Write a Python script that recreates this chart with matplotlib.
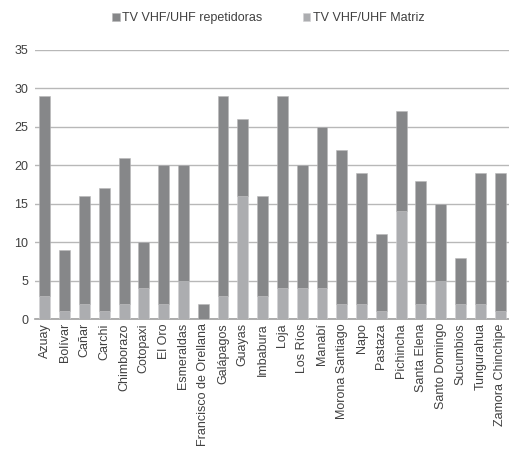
import matplotlib
matplotlib.use("Agg")
import matplotlib.pyplot as plt
import numpy as np

plt.rcParams['font.family'] = ['Liberation Sans', 'DejaVu Sans']

provincias = ["Azuay", "Bolívar", "Cañar", "Carchi", "Chimborazo", "Cotopaxi", "El Oro",
              "Esmeraldas", "Francisco de Orellana", "Galápagos", "Guayas", "Imbabura",
              "Loja", "Los Ríos", "Manabí", "Morona Santiago", "Napo", "Pastaza",
              "Pichincha", "Santa Elena", "Santo Domingo", "Sucumbios", "Tungurahua",
              "Zamora Chinchipe"]
matriz = [3, 1, 2, 1, 2, 4, 2, 5, 0, 3, 16, 3, 4, 4, 4, 2, 2, 1, 14, 2, 5, 2, 2, 1]
repetidoras = [26, 8, 14, 16, 19, 6, 18, 15, 2, 26, 10, 13, 25, 16, 21, 20, 17, 10, 13, 16, 10, 6, 17, 18]
yticks = [0, 5, 10, 15, 20, 25, 30, 35]

fig = plt.figure(figsize=(5.1, 4.51), dpi=100)
ax = fig.add_axes([35/510, 1-319/451, 1-35/510, (319-50)/451])

x = np.arange(len(provincias))
w = 0.55
b2 = ax.bar(x, matriz, w, color='#acadb0', edgecolor='#d0d0d2', linewidth=0.4,
            label='TV VHF/UHF Matriz', zorder=3)
b1 = ax.bar(x, repetidoras, w, bottom=matriz, color='#868789', edgecolor='#b8b8ba',
            linewidth=0.4, label='TV VHF/UHF repetidoras', zorder=3)

ax.set_xlim(-0.5, len(provincias) - 0.5)
ax.set_ylim(0, 35)
ax.set_yticks(yticks)
ax.yaxis.grid(True, color='#b8b8b8', linewidth=1.0, zorder=0)
ax.set_axisbelow(True)
for s in ['top', 'right', 'left']:
    ax.spines[s].set_visible(False)
ax.spines['bottom'].set_color('#a0a0a0')
ax.spines['bottom'].set_linewidth(1.2)
ax.tick_params(axis='both', length=0, labelsize=9, colors='#404040', pad=5)
ax.set_xticks(x)
ax.set_xticklabels(provincias, rotation=90)
ax.tick_params(axis='x', pad=3)

leg = fig.legend([b1, b2], ['TV VHF/UHF repetidoras', 'TV VHF/UHF Matriz'],
                 loc='center', bbox_to_anchor=(0.526, 1-18/451), ncol=2, frameon=False,
                 fontsize=9, handlelength=0.6, handleheight=0.6, handletextpad=0.2,
                 columnspacing=3.2, labelcolor='#404040')

fig.savefig('out.png', dpi=100)
